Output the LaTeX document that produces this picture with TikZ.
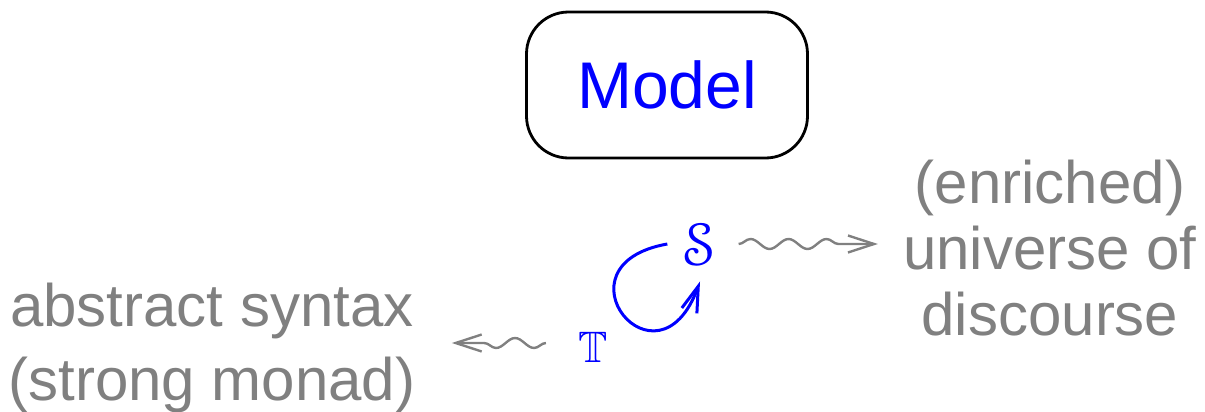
\RequirePackage{fix-cm}
\documentclass[tikz,border=0pt]{standalone}
\usepackage{fontspec}
\setmainfont{Liberation Sans}
\usepackage{amssymb}
\usepackage{eucal}
\usetikzlibrary{positioning,arrows.meta,decorations.pathmorphing}

\begin{document}
\begin{tikzpicture}[x=0.5pt, y=-0.5pt,
  every node/.style={inner sep=0pt},
  box/.style ={draw, line width=1.4pt, rounded corners=21pt,
               minimum width=140.5pt, minimum height=73pt,
               text=blue, font=\fontsize{33}{40}\selectfont},
  sym/.style ={text=blue, inner sep=8pt, font=\fontsize{30}{36}\selectfont},
  note/.style={text=gray, align=center, font=\fontsize{30}{33}\selectfont},
  squig/.style={draw=gray, line width=1.2pt, -{Straight Barb[length=13pt,width=8.5pt]},
               decorate, decoration={snake, amplitude=2.5pt, segment length=19pt, post length=13pt}},
  selfarr/.style={draw=blue, line width=1.5pt, -{Straight Barb[length=13pt,width=8pt]}}]
\useasboundingbox (0,0) rectangle (1205,412);
\node[box] (model) at (667,85) {Model};
\node[sym] (S) at (700,244) {$\mathcal{S}$};
\node[sym, inner sep=16pt, font=\fontsize{22}{26}\selectfont] (T) at (593,347) {$\mathbb{T}$};
\node[note] (universe) at (1050,248) {(enriched)\\universe of\\discourse};
\node[note, font=\fontsize{30}{37}\selectfont] (syntax) at (212,348) {abstract syntax\\(strong monad)};
\coordinate (sout) at ([xshift=3pt]S.east);
\coordinate (tout) at ([yshift=2pt]T.west);
% squiggly arrows out to the explanations
\draw[squig] (sout) -- ([xshift=-12.5pt]universe.west |- sout);
\draw[squig] (tout) -- ([xshift=18pt]syntax.east |- tout);
\draw[selfarr] (S.west) .. controls +(190:60pt) and +(-110:62pt) .. (S.south);
\end{tikzpicture}
\end{document}
